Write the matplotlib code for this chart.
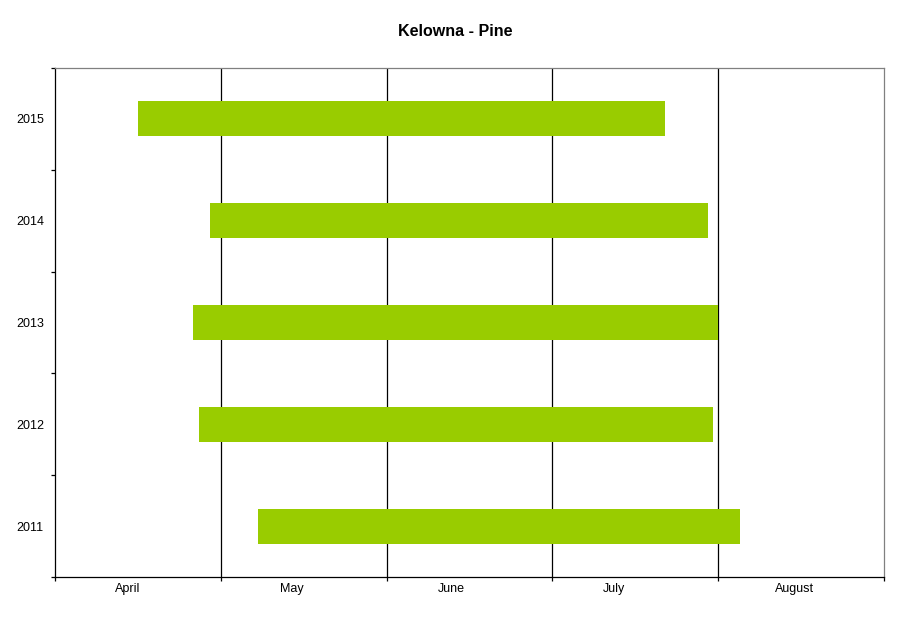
import calendar
import matplotlib
matplotlib.use("Agg")
import matplotlib.pyplot as plt

# ── Data: flowering/season windows per year (month-day) ─────────────
years = ["2011", "2012", "2013", "2014", "2015"]
start_dates = ["05-08", "04-27", "04-26", "04-29", "04-16"]
end_dates = ["08-05", "07-31", "08-01", "07-30", "07-22"]
months = ["April", "May", "June", "July", "August"]
label_pos = [0.44, 1.43, 2.39, 3.37, 4.46]


def to_month_units(md, first_month=4, year=2015):
    # fractional months since April 1
    m, d = (int(v) for v in md.split("-"))
    ndays = calendar.monthrange(year, m)[1]
    return (m - first_month) + (d - 1) / ndays


starts = [to_month_units(s) for s in start_dates]
ends = [to_month_units(e) for e in end_dates]
widths = [e - s for s, e in zip(starts, ends)]

plt.rcParams["font.family"] = ["Liberation Sans", "DejaVu Sans"]

fig = plt.figure(figsize=(9.11, 6.23), dpi=100)
ax = fig.add_axes([55 / 911, 46 / 623, 829 / 911, 509 / 623])

ax.barh(range(len(years)), widths, left=starts, height=0.345,
        color="#99CC00", zorder=3)

ax.set_xlim(0, 5)
ax.set_ylim(-0.5, len(years) - 0.5)

# month boundaries as gridlines / ticks, names between them
ax.set_xticks(range(6), minor=True)
ax.set_xticks(label_pos)
ax.set_xticklabels(months, fontsize=9)
for x in range(1, 5):
    ax.axvline(x, color="black", linewidth=0.9, zorder=1)

ax.set_yticks([i - 0.5 for i in range(len(years) + 1)], minor=True)
ax.set_yticks(range(len(years)))
ax.set_yticklabels(years, fontsize=9)

ax.tick_params(axis="both", which="major", length=0)
ax.tick_params(axis="x", which="major", pad=4)
ax.tick_params(axis="y", which="major", pad=8)
ax.tick_params(axis="both", which="minor", length=3, width=0.9,
               color="black", direction="out")

ax.spines["left"].set_color("black")
ax.spines["bottom"].set_color("black")
ax.spines["top"].set_color("#808080")
ax.spines["right"].set_color("#808080")
for s in ax.spines.values():
    s.set_linewidth(0.9)

fig.text(0.5, 1 - 32 / 623, "Kelowna - Pine", ha="center", va="center",
         fontsize=11.5, fontweight="bold")

plt.savefig("out.png", dpi=100)
plt.close()
